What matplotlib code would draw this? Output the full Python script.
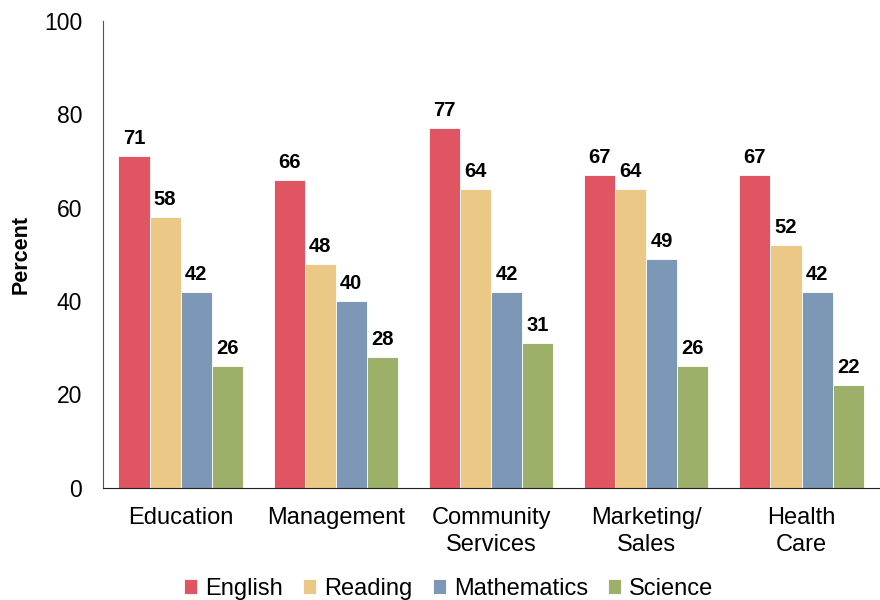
import matplotlib
matplotlib.use("Agg")
import matplotlib.pyplot as plt
import numpy as np

categories = ["Education", "Management", "Community\nServices", "Marketing/\nSales", "Health\nCare"]
series_names = ["English", "Reading", "Mathematics", "Science"]
english = [71, 66, 77, 67, 67]
reading = [58, 48, 64, 64, 52]
mathematics = [42, 40, 42, 49, 42]
science = [26, 28, 31, 26, 22]
yticks = [0, 20, 40, 60, 80, 100]

colors = ["#E15563", "#EBC886", "#7C98B6", "#9CB06A"]

plt.rcParams['font.family'] = ['Liberation Sans', 'DejaVu Sans']

fig = plt.figure(figsize=(8.8, 6), dpi=100)
ax = fig.add_axes([0.117, 0.187, 0.882, 0.778])

x = np.arange(len(categories))
w = 0.2
data = [english, reading, mathematics, science]
for i, (vals, name, c) in enumerate(zip(data, series_names, colors)):
    pos = x + (i - 1.5) * w
    ax.bar(pos, vals, width=w, color=c, edgecolor='white', linewidth=0.6, label=name)
    for p, v in zip(pos, vals):
        ax.text(p, v + 2.6, str(v), ha='center', va='baseline', fontsize=14.5, fontweight='bold')

ax.set_xlim(-0.5, len(categories) - 0.5)
ax.set_ylim(0, 100)
ax.set_yticks(yticks)
ax.set_xticks(x)
ax.set_xticklabels(categories, fontsize=17, linespacing=1.3)
ax.tick_params(axis='y', length=0, labelsize=16.5, pad=15)
ax.tick_params(axis='x', length=0, pad=14)
ax.spines['top'].set_visible(False)
ax.spines['right'].set_visible(False)
ax.spines['left'].set_color('#555555')
ax.spines['bottom'].set_color('#222222')
ax.set_ylabel("Percent", fontsize=15.5, fontweight='bold', va='center')
ax.yaxis.set_label_coords(-0.105, 0.5)

leg = fig.legend(loc='lower center', bbox_to_anchor=(0.51, -0.035), ncol=4, frameon=False,
                 fontsize=17, handlelength=0.55, handleheight=0.55, handletextpad=0.35,
                 columnspacing=0.85)

fig.savefig("out.png", dpi=100)
